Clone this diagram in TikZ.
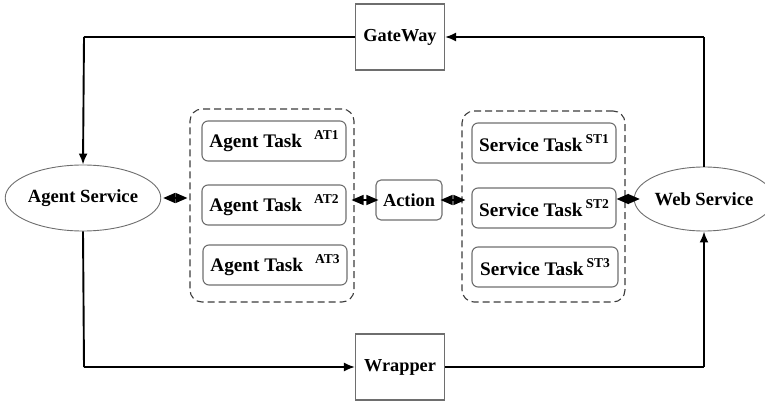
\documentclass[tikz,border=0pt]{standalone}
\usepackage{fontspec}
\setmainfont{Liberation Serif}
\usetikzlibrary{shapes.geometric,arrows.meta}
\definecolor{boxgray}{RGB}{110,110,110}
\definecolor{dashgray}{RGB}{60,60,60}
\begin{document}
\begin{tikzpicture}[x=1pt,y=-1pt,
  lbl/.style={font=\bfseries\fontsize{18.3}{20}\selectfont, text=black},
  tlbl/.style={font=\bfseries\fontsize{19.2}{21}\selectfont, text=black},
  elbl/.style={font=\bfseries\fontsize{18.6}{20}\selectfont, text=black},
  sq/.style={draw=boxgray, line width=1.1pt, minimum width=89pt, minimum height=66pt, inner sep=0pt, lbl},
  ell/.style={ellipse, draw=boxgray, line width=0.9pt, inner sep=0pt, elbl},
  task/.style={draw=boxgray, line width=1.1pt, rounded corners=6pt, minimum width=144pt, minimum height=40pt, inner sep=0pt, tlbl},
  grp/.style={draw=dashgray, line width=1.1pt, dash pattern=on 7pt off 4pt, rounded corners=12pt},
  flow/.style={line width=1.9pt, -{Latex[length=11pt,width=9pt]}},
  plain/.style={line width=1.9pt},
  dbl/.style={line width=1.4pt, {Triangle[length=12pt,width=10pt]}-{Triangle[length=12pt,width=10pt]}}
]
\useasboundingbox (0,0) rectangle (765,403);
\newcommand{\sups}[1]{\raisebox{6pt}{\fontsize{13.5}{14}\selectfont #1}}

% groups
\node[grp, minimum width=164pt, minimum height=193pt, inner sep=0pt] (gl) at (272,205.5) {};
\node[grp, minimum width=163pt, minimum height=191pt, inner sep=0pt] (gr) at (543.5,206.5) {};

% main nodes
\node[sq] (gw) at (400,37) {GateWay};
\node[sq] (wr) at (400,367) {Wrapper};
\node[ell, minimum width=147pt, minimum height=66pt] (as) at (83,198) {Agent Service};
\node[ell, minimum width=136pt, minimum height=64pt] (ws) at (704,199) {Web Service};

% tasks
\node[task] (at1) at (274,141) {\raisebox{-2pt}{Agent Task}\hspace{12pt}\sups{AT1}};
\node[task] (at2) at (274,205) {\raisebox{-2pt}{Agent Task}\hspace{12pt}\sups{AT2}};
\node[task] (at3) at (275,265) {\raisebox{-2pt}{Agent Task}\hspace{12pt}\sups{AT3}};
\node[task] (st1) at (544,143) {\raisebox{-2pt}{Service Task}\,\sups{ST1}};
\node[task] (st2) at (544,208) {\raisebox{-2pt}{Service Task}\,\sups{ST2}};
\node[task, minimum width=146pt] (st3) at (545,267) {\raisebox{-2pt}{Service Task}\,\sups{ST3}};

\node[draw=boxgray, line width=1.1pt, rounded corners=5pt, minimum width=66pt, minimum height=40pt, inner sep=0pt, lbl] (act) at (409,200) {Action};

% coordinates for corners
\coordinate (tl) at (84,37);
\coordinate (bl) at (84,367);
\coordinate (tr) at (704,37);
\coordinate (br) at (704,367);

% flows
\draw[plain] (gw.west) -- (tl);
\draw[flow] (tl) -- (as.north);
\draw[plain] (as.south) -- (bl);
\draw[flow] (bl) -- (wr.west);
\draw[plain] (wr.east) -- (br);
\draw[flow] (br) -- (ws.south);
\draw[plain] (ws.north) -- (tr);
\draw[flow] (tr) -- (gw.east);

% double connectors
\draw[dbl] ([xshift=2pt]as.east) -- ([xshift=-2pt]gl.west |- as.east);
\draw[dbl] ([xshift=5pt]at2.east |- act.west) -- ([xshift=3pt]act.west);
\draw[dbl] ([xshift=-2pt]act.east) -- ([xshift=-6pt]st2.west |- act.east);
\draw[dbl] (st2.east |- ws.west) -- ([xshift=6pt]ws.west);
\end{tikzpicture}
\end{document}
